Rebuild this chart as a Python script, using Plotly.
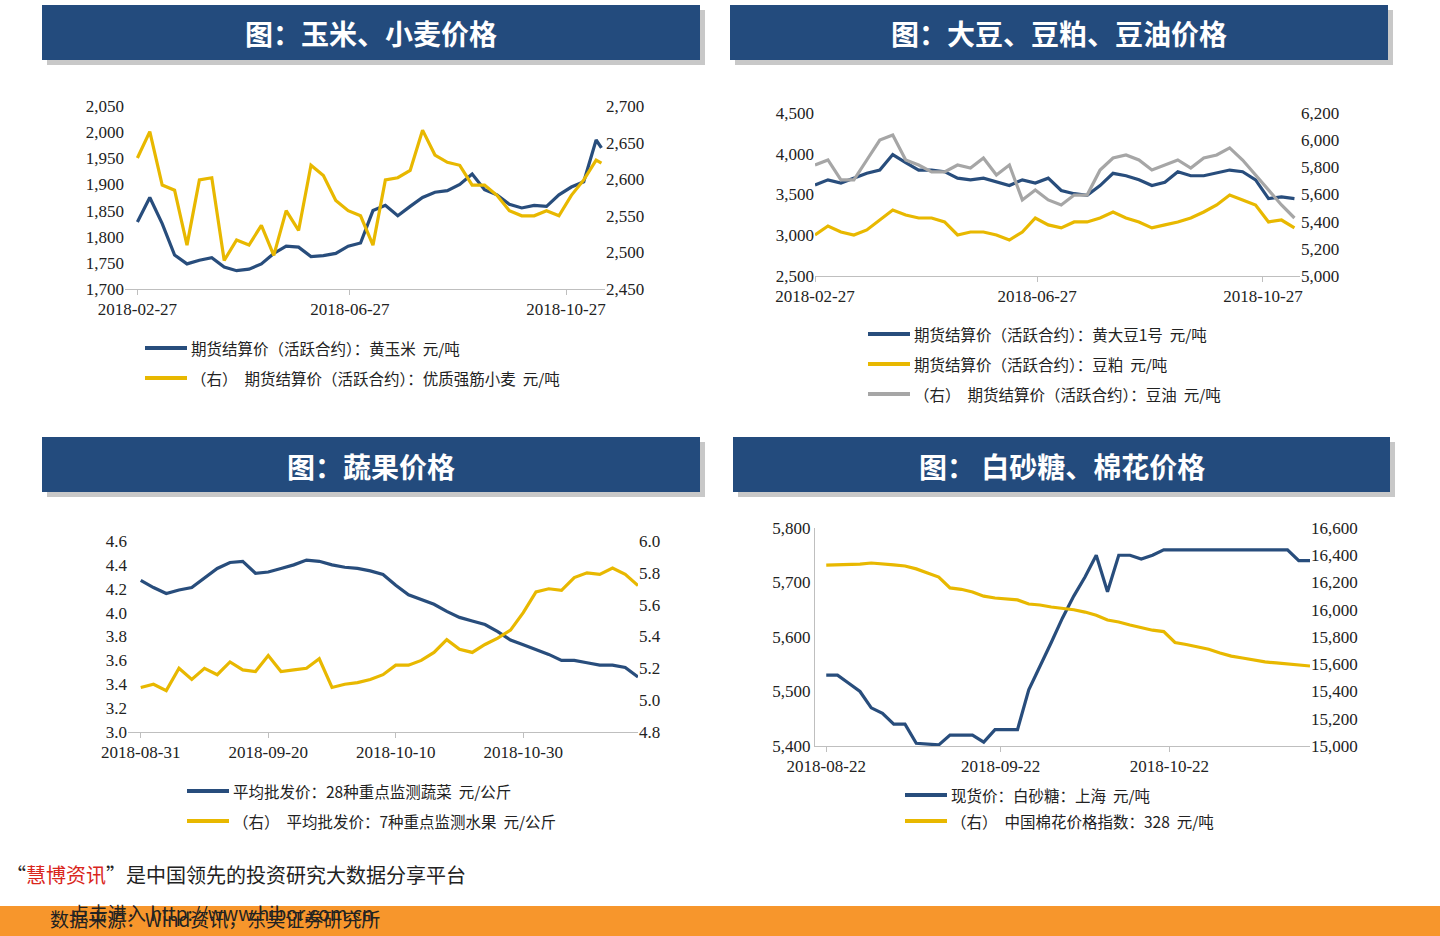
import pandas as pd
import plotly.graph_objects as go

# ---------- data ----------
p1_dates = list(pd.date_range("2018-02-27", periods=38, freq="7D")) + [pd.Timestamp("2018-11-16")]
corn = [1828,1875,1825,1765,1748,1755,1760,1742,1735,1738,1748,1768,1782,1780,1762,1764,1768,1782,1788,1850,
        1860,1840,1858,1875,1885,1888,1900,1920,1890,1880,1862,1855,1860,1858,1880,1895,1905,1985,1970]
wheat = [2629,2665,2592,2585,2510,2599,2602,2489,2517,2510,2537,2496,2557,2530,2619,2605,2571,2557,2550,2510,
         2599,2602,2612,2667,2633,2623,2619,2592,2592,2578,2557,2550,2550,2557,2550,2578,2599,2626,2622]

p2_dates = pd.date_range("2018-02-27", periods=38, freq="7D")
soybean = [3617,3680,3640,3700,3760,3800,3990,3890,3800,3800,3780,3700,3680,3700,3650,3610,3680,3640,3700,3550,
           3510,3490,3610,3760,3730,3680,3610,3650,3780,3730,3730,3760,3800,3780,3680,3450,3470,3450]
soymeal = [5302,5368,5324,5302,5339,5412,5486,5449,5427,5427,5398,5302,5324,5324,5302,5265,5324,5427,5376,5354,
           5398,5398,5427,5471,5427,5398,5354,5376,5398,5427,5471,5523,5596,5560,5523,5398,5412,5354]
soyoil = [5817,5854,5707,5707,5854,6001,6038,5854,5817,5766,5766,5817,5795,5869,5744,5817,5560,5633,5560,5523,
          5596,5596,5780,5869,5891,5854,5780,5817,5854,5795,5869,5891,5943,5854,5744,5633,5523,5427]

p3_dates = pd.date_range("2018-08-31", periods=40, freq="2D")
veg = [4.27,4.21,4.16,4.19,4.21,4.29,4.37,4.42,4.43,4.33,4.34,4.37,4.40,4.44,4.43,4.40,4.38,4.37,4.35,4.32,
       4.23,4.15,4.11,4.07,4.01,3.96,3.93,3.90,3.84,3.77,3.73,3.69,3.65,3.60,3.60,3.58,3.56,3.56,3.54,3.46]
fruit = [5.08,5.10,5.06,5.20,5.13,5.20,5.16,5.24,5.19,5.18,5.28,5.18,5.19,5.20,5.26,5.08,5.10,5.11,5.13,5.16,
         5.22,5.22,5.25,5.30,5.38,5.32,5.30,5.35,5.39,5.44,5.55,5.68,5.70,5.69,5.77,5.80,5.79,5.83,5.79,5.72]

p4_dates = pd.date_range("2018-08-22", periods=44, freq="2D")
sugar = [5530,5530,5515,5500,5470,5460,5440,5440,5405,5403,5402,5420,5420,5420,5407,5430,5430,5430,5503,5545,
         5590,5635,5675,5710,5750,5683,5750,5750,5743,5750,5760,5760,5760,5760,5760,5760,5760,5760,5760,5760,
         5760,5760,5740,5740]
cotton = [16328,16330,16333,16335,16343,16338,16330,16321,16300,16270,16240,16160,16150,16130,16100,16086,16080,
          16072,16042,16035,16020,16010,16000,15983,15960,15925,15910,15888,15870,15850,15840,15760,15745,15727,
          15710,15683,15660,15646,15630,15617,15610,15602,15595,15587]

titles = ["图：玉米、小麦价格", "图：大豆、豆粕、豆油价格", "图：蔬果价格", "图： 白砂糖、棉花价格"]
legend1 = ["期货结算价（活跃合约）：黄玉米  元/吨", "（右）  期货结算价（活跃合约）：优质强筋小麦  元/吨"]
legend2 = ["期货结算价（活跃合约）：黄大豆1号  元/吨", "期货结算价（活跃合约）：豆粕  元/吨",
           "（右）  期货结算价（活跃合约）：豆油  元/吨"]
legend3 = ["平均批发价：28种重点监测蔬菜  元/公斤", "（右）  平均批发价：7种重点监测水果  元/公斤"]
legend4 = ["现货价：白砂糖：上海  元/吨", "（右）  中国棉花价格指数：328  元/吨"]

BLUE, YEL, GRAY = "#284D7C", "#E8B800", "#A6A6A6"
W, H = 1440, 936
fig = go.Figure()

def line(x, y, xa, ya, c):
    fig.add_trace(go.Scatter(x=x, y=y, xaxis=xa, yaxis=ya, mode="lines",
                             line=dict(color=c, width=3.2), showlegend=False))

line(p1_dates, corn, "x", "y", BLUE); line(p1_dates, wheat, "x", "y2", YEL)
line(p2_dates, soyoil, "x2", "y4", GRAY); line(p2_dates, soybean, "x2", "y3", BLUE)
line(p2_dates, soymeal, "x2", "y4", YEL)
line(p3_dates, veg, "x3", "y5", BLUE); line(p3_dates, fruit, "x3", "y6", YEL)
line(p4_dates, sugar, "x4", "y7", BLUE); line(p4_dates, cotton, "x4", "y8", YEL)

tf = dict(family="Liberation Serif", size=17, color="#222")
def px(a, b): return [a / W, b / W]
def py(top, bot): return [1 - bot / H, 1 - top / H]

def xax(dom, yn, rng, ticks):
    return dict(domain=dom, anchor=yn, type="date", range=rng, tickvals=ticks, tickformat="%Y-%m-%d",
                showgrid=False, showline=True, linecolor="#BFBFBF", ticks="outside", ticklen=5,
                tickcolor="#BFBFBF", tickfont=tf, zeroline=False, automargin=False)
def yax(dom, xn, rng, dt, fmt=",.0f", side="left", over=None):
    d = dict(domain=dom, anchor=xn, range=rng, dtick=dt, tick0=rng[0], tickformat=fmt, side=side,
             showgrid=False, zeroline=False, showline=False, tickfont=tf, automargin=False)
    if over: d["overlaying"] = over
    return d

fig.update_layout(
    xaxis=xax(px(125, 605), "y", ["2018-02-20", "2018-11-18"], ["2018-02-27", "2018-06-27", "2018-10-27"]),
    yaxis=yax(py(106, 289), "x", [1700, 2050], 50),
    yaxis2=yax(py(106, 289), "x", [2450, 2700], 50, side="right", over="y"),
    xaxis2=xax(px(815, 1300), "y3", ["2018-02-27", "2018-11-16"], ["2018-02-27", "2018-06-27", "2018-10-27"]),
    yaxis3=yax(py(113, 276), "x2", [2500, 4500], 500),
    yaxis4=yax(py(113, 276), "x2", [5000, 6200], 200, side="right", over="y3"),
    xaxis3=xax(px(128, 638), "y5", ["2018-08-29", "2018-11-17"], ["2018-08-31", "2018-09-20", "2018-10-10", "2018-10-30"]),
    yaxis5=yax(py(541, 732), "x3", [3.0, 4.6], 0.2, fmt=".1f"),
    yaxis6=yax(py(541, 732), "x3", [4.8, 6.0], 0.2, fmt=".1f", side="right", over="y5"),
    xaxis4=xax(px(815, 1310), "y7", ["2018-08-20", "2018-11-16"], ["2018-08-22", "2018-09-22", "2018-10-22"]),
    yaxis7=yax(py(528, 746), "x4", [5400, 5800], 100),
    yaxis8=yax(py(528, 746), "x4", [15000, 16600], 200, side="right", over="y7"),
)
fig.layout.yaxis7.showline = True; fig.layout.yaxis7.linecolor = "#BFBFBF"

shapes, ann = [], []
def rect(x0, y0, x1, y1, color, layer="below"):
    shapes.append(dict(type="rect", xref="paper", yref="paper", x0=x0 / W, x1=x1 / W, y0=1 - y1 / H, y1=1 - y0 / H,
                       fillcolor=color, line=dict(width=0), layer=layer))
def text(x, y, t, size, color="#222", bold=False, xanchor="left", family="Noto Sans CJK SC"):
    ann.append(dict(xref="paper", yref="paper", x=x / W, y=1 - y / H, text=f"<b>{t}</b>" if bold else t,
                    showarrow=False, xanchor=xanchor, yanchor="middle", font=dict(size=size, color=color, family=family)))

banners = [(42, 5, 700, 60), (730, 5, 1388, 60), (42, 437, 700, 492), (733, 437, 1390, 492)]
for (x0, y0, x1, y1), t in zip(banners, titles):
    rect(x0 + 5, y0 + 5, x1 + 5, y1 + 5, "#C8C8C8")
    rect(x0, y0, x1, y1, "#234B7D")
    text((x0 + x1) / 2, (y0 + y1) / 2 + 1, t, 28, "white", True, "center")

def legend(x0, ys, labels, colors):
    for y, l, c in zip(ys, labels, colors):
        shapes.append(dict(type="line", xref="paper", yref="paper", x0=x0 / W, x1=(x0 + 42) / W,
                           y0=1 - y / H, y1=1 - y / H, line=dict(color=c, width=4)))
        text(x0 + 44, y, l, 15.5)
legend(145, [348, 378], legend1, [BLUE, YEL])
legend(868, [334, 364, 394], legend2, [BLUE, YEL, GRAY])
legend(187, [791, 821], legend3, [BLUE, YEL])
legend(905, [795, 821], legend4, [BLUE, YEL])

rect(0, 906, 1440, 936, "#F7962C")
ann.append(dict(xref="paper", yref="paper", x=4 / W, y=1 - 874 / H, showarrow=False, xanchor="left", yanchor="middle",
                text="“<span style='color:#D9261C'>慧博资讯</span>”是中国领先的投资研究大数据分享平台",
                font=dict(size=20, color="#222", family="Noto Sans CJK SC")))
text(48, 918, "数据来源：Wind资讯，东吴证券研究所", 19, "#222")
text(68, 912, "点击进入 http://www.hibor.com.cn", 19, "#222")

fig.update_layout(width=W, height=H, margin=dict(l=0, r=0, t=0, b=0, pad=0, autoexpand=False),
                  paper_bgcolor="white", plot_bgcolor="rgba(0,0,0,0)", shapes=shapes, annotations=ann,
                  showlegend=False)
fig.write_html("out.html", config={"displayModeBar": False})

with open("out.html", encoding="utf-8") as f:
    html = f.read()
html = html.replace("<head>", "<head><style>html,body{margin:0;padding:0;overflow:hidden}</style>", 1)
with open("out.html", "w", encoding="utf-8") as f:
    f.write(html)
